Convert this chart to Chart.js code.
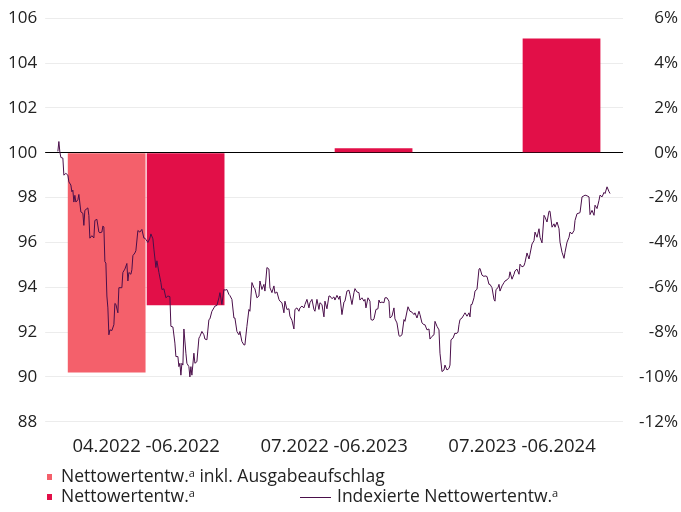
<!DOCTYPE html>
<html>
<head>
<meta charset="utf-8">
<script src="https://cdn.jsdelivr.net/npm/chart.js@4"></script>
<style>
  body { margin: 0; background: #fff; font-family: "Open Sans", sans-serif; color: #222; }
  #wrap { position: relative; width: 681px; height: 512px; }
  #chartBox { position: absolute; left: 0; top: 0; width: 681px; height: 464px; }
  .lg { position: absolute; font-size: 17.5px; line-height: 20px; white-space: nowrap; }
  .lg sup { font-size: 11px; vertical-align: 5px; line-height: 0; }
  .sq { position: absolute; width: 5px; height: 6px; }
  .ln { position: absolute; width: 31px; height: 1px; background: #4a0f4a; }
</style>
</head>
<body>
<div id="wrap">
  <div id="chartBox"><canvas id="myChart"></canvas></div>
  <div class="sq" style="left:47px;top:474px;background:#f4606b"></div>
  <div class="lg" style="left:61px;top:465px">Nettowertentw.<sup>a</sup> inkl. Ausgabeaufschlag</div>
  <div class="sq" style="left:47px;top:494px;background:#e20f48"></div>
  <div class="lg" style="left:61px;top:485px">Nettowertentw.<sup>a</sup></div>
  <div class="ln" style="left:300px;top:497px"></div>
  <div class="lg" style="left:337px;top:485px">Indexierte Nettowertentw.<sup>a</sup></div>
</div>
<script>
const periods = ['04.2022 -06.2022', '07.2022 -06.2023', '07.2023 -06.2024'];
const inklAufschlag = [-9.8, null, null];
const nettoEntw = [-6.8, 0.2, 5.1];

const lineDay = [0,1,2,3,5,6,8,10,11,13,14,15,16,17,18,20,21,23,25,26,27,30,31,32,34,36,37,39,41,42,44,45,46,47,48,49,50,51,52,54,56,57,58,60,61,64,65,67,69,70,71,73,74,75,77,78,80,82,84,86,87,
  88,90,92,93,95,96,98,99,101,103,104,106,108,110,112,113,115,117,118,120,121,122,123,124,125,126,128,129,131,132,133,134,136,137,139,141,142,144,146,147,149,151,152,154,156,157,159,161,162,164,166,167,169,171,172,174,176,177,
  179,181,182,184,186,187,189,191,192,194,196,197,199,201,202,204,206,207,209,211,212,214,216,217,219,221,222,224,226,227,229,231,232,234,236,237,239,241,242,244,246,247,249,251,252,254,256,257,259,261,262,264,266,267,269,271,
  272,274,276,277,279,281,282,284,286,287,289,291,292,294,296,297,299,301,302,304,306,307,308,310,312,313,315,316,318,320,321,322,324,326,327,329,331,332,334,336,337,339,341,342,344,346,347,350,352,354,356,357,359,361,362,364,366,
  367,369,371,372,374,376,377,379,381,382,384,386,387,389,391,392,393,395,397,398,400,401,402,404,406,407,409,411,412,413,414,416,417,419,421,422,424,426,427,429,431,432,434,436,437,438,440,441,442,444,446,447,449,451,452,454,456,457,459,461,
  462,464,466,467,469,471,472,474,476,477,479,481,482,484,486,487,489,491,492,494,496,497,499,501,502,504,506,507,509,511,512,514,516,517,519,521,522,524,526,527,529,531,532,534,536,537,539,541,542,544,546,547,549,551,552];
const lineIndex = [100.06,100.5,100.03,99.79,99.76,99.0,99.08,99.0,98.7,98.56,98.26,98.33,97.8,98.1,97.8,97.9,98.14,97.36,97.3,96.76,97.43,97.54,97.2,96.19,96.3,96.2,96.98,97.03,96.46,96.43,96.46,96.73,96.69,95.14,95.08,93.61,93.08,91.88,92.1,92.07,92.33,93.28,93.24,92.86,93.98,93.98,94.66,94.81,95.06,94.28,94.66,94.58,94.78,95.41,95.53,95.63,96.53,96.46,96.58,96.19,96.19,
  96.13,96.0,96.19,96.38,96.16,95.7,94.88,95.18,94.66,94.21,93.9,93.93,93.53,93.61,93.58,92.26,92.23,91.51,90.91,90.91,90.46,90.61,90.08,90.61,90.53,92.14,91.06,90.61,90.46,90.0,90.46,90.08,91.06,90.61,90.68,91.73,91.81,92.03,91.88,91.69,91.66,92.56,92.59,92.93,93.08,93.16,93.19,93.53,93.76,93.23,93.9,93.87,93.9,93.68,93.63,93.46,92.63,92.63,
  92.03,91.88,92.03,91.58,91.43,91.43,92.26,93.01,92.93,94.21,93.98,93.93,93.53,93.61,94.28,93.9,94.13,93.83,94.88,94.81,93.98,93.76,94.06,93.73,93.79,93.46,93.38,93.31,92.86,93.38,93.01,93.04,92.71,92.53,92.14,93.01,93.08,92.93,93.08,93.16,93.08,93.23,93.46,93.08,93.31,93.46,93.01,92.93,93.46,93.01,93.31,93.23,92.68,93.38,93.04,93.61,
  93.61,93.49,93.57,93.43,93.64,93.46,93.61,92.78,93.34,93.38,93.83,93.87,93.68,93.23,93.76,93.94,93.79,93.76,93.43,93.53,93.38,93.46,93.08,93.53,93.38,92.56,92.53,92.59,93.01,93.04,93.43,93.31,93.34,93.31,93.53,93.53,93.38,92.63,92.71,93.08,92.59,92.41,91.84,91.81,91.88,92.56,92.48,93.13,92.93,92.89,92.78,92.86,92.63,92.93,92.78,92.41,92.33,
  92.33,92.1,92.14,91.69,91.81,91.88,92.48,92.26,92.1,91.06,90.24,90.31,90.53,90.31,90.38,90.53,91.66,91.73,91.96,91.93,91.99,92.33,92.56,92.63,92.78,92.86,92.71,92.86,92.68,93.23,93.23,93.53,93.83,93.91,94.81,94.84,94.54,94.48,94.51,94.48,94.13,94.13,93.98,93.46,93.38,93.9,93.98,94.13,93.83,94.06,94.21,94.28,94.33,94.43,94.69,94.36,94.58,94.73,94.81,94.58,
  95.03,94.91,94.96,95.11,95.53,95.26,95.48,95.93,96.08,96.46,96.23,96.61,96.23,95.98,97.21,97.13,96.91,97.39,97.39,96.68,96.83,96.68,96.91,96.61,96.01,95.56,95.29,95.56,96.01,96.23,96.46,96.38,96.53,96.98,97.28,97.31,97.33,98.03,98.08,98.11,98.08,98.03,97.24,97.43,97.21,97.66,97.51,97.88,98.11,98.03,98.23,98.18,98.48,98.26,98.18];

const gridColor = ctx => (ctx.tick && ctx.tick.value === 100) ? '#000' : '#ececec';
const tickFont = { family: 'Open Sans', size: 17 };

// line dataset stays first: Chart.js 4.5 splits the bar slot per x axis id
const data = {
    labels: periods,
    datasets: [{
        type: 'line',
        label: 'Indexierte Nettowertentw.',
        data: lineDay.map((d, i) => ({ x: d, y: lineIndex[i] })),
        xAxisID: 'xLine',
        yAxisID: 'y',
        borderColor: '#4a0f4a',
        borderWidth: 1,
        pointRadius: 0,
        tension: 0,
        order: 0
    }, {
        type: 'bar',
        label: 'Nettowertentw. inkl. Ausgabeaufschlag',
        data: inklAufschlag,
        backgroundColor: '#f4606b',
        xAxisID: 'x',
        yAxisID: 'y2',
        barPercentage: 0.985,
        categoryPercentage: 1.68,
        order: 1
    }, {
        type: 'bar',
        label: 'Nettowertentw.',
        data: nettoEntw,
        backgroundColor: '#e20f48',
        xAxisID: 'x',
        yAxisID: 'y2',
        barPercentage: 0.985,
        categoryPercentage: 1.68,
        order: 1
    }]
};

const config = {
    type: 'line',
    data: data,
    options: {
        responsive: true,
        maintainAspectRatio: false,
        animation: false,
        layout: { padding: { left: 0, right: 3, top: 7, bottom: 0 } },
        plugins: { legend: { display: false }, tooltip: { enabled: false } },
        scales: {
            x: {
                type: 'category',
                offset: true,
                grid: { display: false },
                border: { display: false },
                ticks: { font: { family: 'Open Sans', size: 18.5 }, color: '#222', padding: 6, maxRotation: 0 }
            },
            xLine: {
                type: 'linear',
                display: false,
                offset: false,
                min: -5.7,
                max: 558
            },
            y: {
                position: 'left',
                min: 88,
                max: 106,
                ticks: { stepSize: 2, font: tickFont, color: '#222', padding: 8 },
                grid: { color: gridColor, tickLength: 7 },
                border: { display: false }
            },
            y2: {
                position: 'right',
                min: -12,
                max: 6,
                ticks: { stepSize: 2, font: tickFont, color: '#222', padding: 8, crossAlign: 'far',
                    callback: v => v + '%' },
                grid: { drawOnChartArea: false, color: ctx => (ctx.tick && ctx.tick.value === 0) ? '#000' : '#ececec', tickLength: 7 },
                border: { display: false }
            }
        }
    }
};

const ctx = document.getElementById('myChart');
const chart = new Chart(ctx, config);
</script>
</body>
</html>
